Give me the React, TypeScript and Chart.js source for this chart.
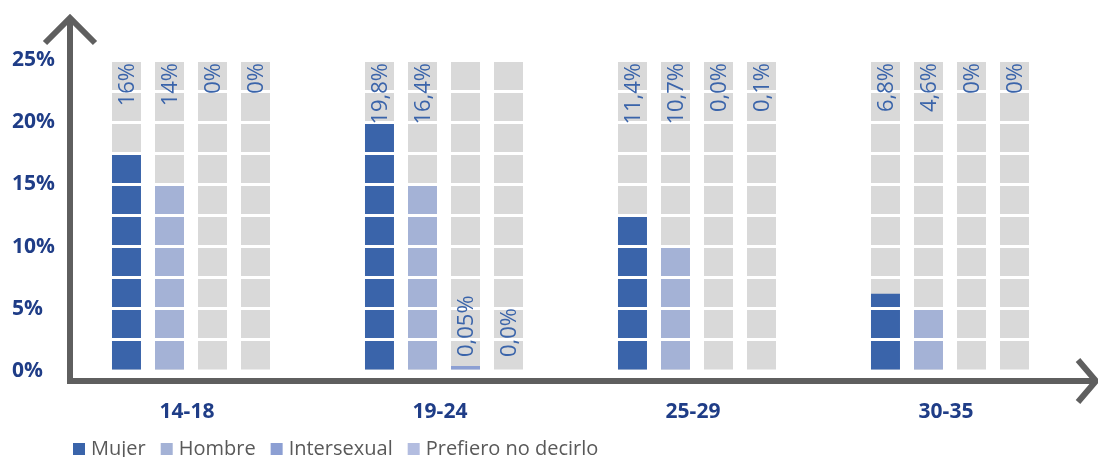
import React, { useEffect, useRef } from 'react';
import { Chart, registerables } from 'chart.js';

Chart.register(...registerables);

// ---------- data ----------
const categories = ['14-18', '19-24', '25-29', '30-35'];
const seriesNames = ['Mujer', 'Hombre', 'Intersexual', 'Prefiero no decirlo'];

// bar heights as drawn in the picture (%)
const mujerValues = [17.5, 20, 12.5, 6.2];
const hombreValues = [15, 15, 10, 5];
const intersexualValues = [0, 0.4, 0, 0];
const prefieroValues = [0, 0, 0, 0];

// printed value labels
const mujerLabels = ['16%', '19,8%', '11,4%', '6,8%'];
const hombreLabels = ['14%', '16,4%', '10,7%', '4,6%'];
const intersexualLabels = ['0%', '0,05%', '0,0%', '0%'];
const prefieroLabels = ['0%', '0,0%', '0,1%', '0%'];

// where each label sits: top of the grey track, or just above the base
const mujerLabelPlace = ['top', 'top', 'top', 'top'];
const hombreLabelPlace = ['top', 'top', 'top', 'top'];
const intersexualLabelPlace = ['top', 'base', 'top', 'top'];
const prefieroLabelPlace = ['top', 'base', 'top', 'top'];

// full-height grey track behind each bar
const trackValues = [25, 25, 25, 25];

const yMin = 0;
const yMax = 25;
const yStep = 2.5;
const yLabelEvery = 5;

// ---------- styles ----------
const seriesColors = ['#3a64aa', '#a4b2d6', '#8c9fd3', '#b3bde0'];
const trackColor = '#d9d9d9';
const navy = '#1f3d87';
const labelBlue = '#3a64aa';
const axisGrey = '#5f5f5f';
const legendGrey = '#595959';
const FONT = '"Open Sans", "Noto Sans", sans-serif';

const valueSets = [mujerValues, hombreValues, intersexualValues, prefieroValues];
const labelSets = [mujerLabels, hombreLabels, intersexualLabels, prefieroLabels];
const placeSets = [mujerLabelPlace, hombreLabelPlace, intersexualLabelPlace, prefieroLabelPlace];

const decorPlugin = {
  id: 'decor',
  afterDraw(chart: any) {
    const ctx = chart.ctx;
    const yScale = chart.scales.y;
    const { left, bottom } = chart.chartArea;

    // value labels (rotated)
    ctx.save();
    ctx.font = `22px ${FONT}`;
    ctx.fillStyle = labelBlue;
    ctx.textBaseline = 'middle';
    for (let d = 0; d < 4; d++) {
      const meta = chart.getDatasetMeta(d);
      meta.data.forEach((bar: any, i: number) => {
        const place = placeSets[d][i];
        const y = place === 'top' ? yScale.getPixelForValue(yMax) + 3 : yScale.getPixelForValue(yMin) - 14;
        ctx.save();
        ctx.translate(bar.x + 1, y);
        ctx.rotate(-Math.PI / 2);
        ctx.textAlign = place === 'top' ? 'right' : 'left';
        ctx.fillText(labelSets[d][i], 0, 0);
        ctx.restore();
      });
    }
    ctx.restore();

    // axes with arrow heads
    const ax = left + 5.5;
    const ay = bottom + 10;
    ctx.save();
    ctx.strokeStyle = axisGrey;
    ctx.lineWidth = 6;
    ctx.lineCap = 'butt';
    ctx.lineJoin = 'miter';
    ctx.beginPath();
    ctx.moveTo(ax, ay + 3);
    ctx.lineTo(ax, 18);
    ctx.stroke();
    ctx.beginPath();
    ctx.moveTo(ax - 25, 43);
    ctx.lineTo(ax, 18);
    ctx.lineTo(ax + 25, 43);
    ctx.stroke();
    ctx.beginPath();
    ctx.moveTo(ax - 3, ay);
    ctx.lineTo(1094, ay);
    ctx.stroke();
    ctx.beginPath();
    ctx.moveTo(1078, 360);
    ctx.lineTo(1096, ay);
    ctx.lineTo(1078, 402);
    ctx.stroke();
    ctx.restore();

    // legend
    ctx.save();
    ctx.font = `20px ${FONT}`;
    ctx.textBaseline = 'middle';
    ctx.textAlign = 'left';
    let x = 73;
    const cy = 449;
    for (let d = 0; d < 4; d++) {
      const ds = chart.data.datasets[d];
      ctx.fillStyle = ds.backgroundColor;
      ctx.fillRect(x, cy - 6, 12, 12);
      x += 18;
      ctx.fillStyle = legendGrey;
      ctx.fillText(ds.label, x, cy);
      x += ctx.measureText(ds.label).width + 15;
    }
    ctx.restore();
  },
};

export default function App() {
  const canvasRef = useRef<HTMLCanvasElement | null>(null);

  useEffect(() => {
    if (!canvasRef.current) return;
    const valueDatasets = seriesNames.map((name, d) => ({
      label: name,
      data: valueSets[d],
      backgroundColor: seriesColors[d],
      borderWidth: 0,
      stack: 's' + d,
      order: 1,
      categoryPercentage: 0.68,
      barPercentage: 0.674,
    }));
    const trackDatasets = seriesNames.map((name, d) => ({
      label: name + ' (fondo)',
      data: trackValues,
      backgroundColor: trackColor,
      borderWidth: 0,
      stack: 's' + d,
      order: 2,
      categoryPercentage: 0.68,
      barPercentage: 0.674,
    }));

    const chart = new Chart(canvasRef.current, {
      type: 'bar',
      data: {
        labels: categories,
        datasets: [...valueDatasets, ...trackDatasets] as any,
      },
      options: {
        animation: false,
        responsive: true,
        maintainAspectRatio: false,
        events: [],
        layout: { padding: { top: 60, left: 12, right: 21.5, bottom: 0 } },
        plugins: {
          legend: { display: false },
          tooltip: { enabled: false },
          title: { display: false },
        },
        scales: {
          x: {
            grid: { display: false },
            border: { display: false },
            ticks: {
              font: { family: FONT, size: 21, weight: 'bold' },
              color: navy,
              padding: 20,
              labelOffset: -4,
            },
            afterFit: (scale: any) => {
              scale.height = 86;
            },
          },
          y: {
            stacked: false,
            min: yMin,
            max: yMax,
            grid: { color: '#ffffff', lineWidth: 3, z: 1, drawTicks: false },
            border: { display: false },
            ticks: {
              stepSize: yStep,
              autoSkip: false,
              crossAlign: 'far',
              padding: 0,
              font: { family: FONT, size: 21, weight: 'bold' },
              color: navy,
              callback: (v: any) => (Number(v) % yLabelEvery === 0 ? `${v}%` : ''),
            },
            afterFit: (scale: any) => {
              scale.width = 52.5;
            },
          },
        },
      } as any,
      plugins: [decorPlugin],
    });
    return () => chart.destroy();
  }, []);

  return (
    <div style={{ position: 'absolute', left: 0, top: 0, width: 1098, height: 457, background: '#ffffff' }}>
      <canvas ref={canvasRef} />
    </div>
  );
}
